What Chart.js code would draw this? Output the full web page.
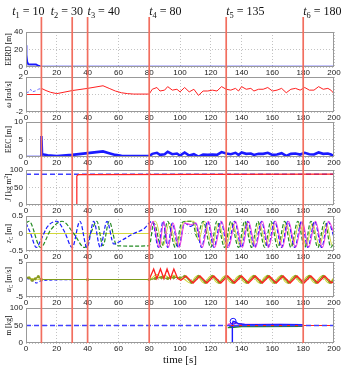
<!DOCTYPE html>
<html lang="en">
<head>
<meta charset="UTF-8">
<title>Simulation panels</title>
<script src="https://cdn.jsdelivr.net/npm/chart.js@4"></script>
<style>
  body { margin: 0; background: #fff; }
  #wrap { position: relative; width: 348px; height: 366px; overflow: hidden; }
  .box { position: absolute; left: 0; width: 348px; }
</style>
</head>
<body>
<div id="wrap"></div>
<script>
// ---- data ----
const xRange = [0, 200];
const xStep = 20;

// event times (vertical lines) and their labels
const eventTimes = [10, 30, 40, 80, 130, 180];
const eventIndex = ['1', '2', '3', '4', '5', '6'];
const eventValues = ['10', '30', '40', '80', '135', '180'];
const eventLabelAt = [-9, 16, 40, 80, 130, 180];

// y axes
const yMin = [0, -2, 0, 0, -0.5, -5, 0];
const yMax = [40, 2, 10, 100, 0.5, 5, 100];
const yStep = [20, 2, 5, 50, 0.5, 5, 50];
const yTitles = [
  [['EERD [m]']],
  [['ω', 'i'], [' [rad/s]']],
  [['EEC [m]']],
  [['J', 'i'], [' [kg m'], ['2', 'sup'], [']']],
  [['z', 'i'], ['C', 'sub'], [' [m]']],
  [['u', 'i'], ['C', 'sub'], [' [m/s]']],
  [['m [kg]']]
];

// EERD
const eerd = [[0, 25], [0.3, 14], [0.8, 6], [1.5, 3.2], [3, 3], [6.5, 3], [7.5, 2], [9, 1], [10, 0.5], [200, 0.5]];

// omega
const omegaRef = [[0, 0.2], [2, 0.3], [3, 0.6], [4, 0.3], [6, 0.4], [8, 0.6], [10, 0.7]];
const omega = [[0, 0], [10, 0], [10, 0.7], [13, 0.45], [16, 0.25], [20, 0.1], [30, 0.45], [40, 0.7], [50, 1.0],
  [54, 0.7], [58, 0.4], [62, 0.2], [66, 0.1], [70, 0.05], [80, 0.05],
  [82, 0.6], [85, 0.8], [87, 0.4], [90, 0.5], [92, 0.9], [95, 0.5], [98, 0.6], [100, 0.3], [103, 0.8], [106, 0.3],
  [109, 0.6], [112, -0.1], [115, 0.4], [118, 0.4], [121, 0.5], [124, 0.4], [127, 0.9], [130, 0.6], [133, 0.5],
  [136, 0.7], [138, 0.4], [140, 0.9], [143, 0.6], [146, 0.7], [148, 0.4], [151, 0.6], [154, 0.6], [157, 0.8],
  [160, 0.4], [163, 0.5], [166, 0.7], [169, 0.2], [172, 0.6], [175, 0.7], [178, 0.5], [181, 0.8], [184, 0.5],
  [187, 0.5], [190, 0.9], [193, 0.6], [196, 0.7], [198, 0.5], [200, 0.1]];

// EEC
const eec = [[0, 0], [10, 0], [10, 6], [10.4, 0.8], [14, 0.5], [20, 0.3], [30, 0.6], [40, 1.1], [50, 1.6], [54, 1.1],
  [58, 0.6], [62, 0.35], [70, 0.3], [80, 0.3], [82, 0.9], [85, 1.2], [87, 0.6], [90, 0.8], [92, 1.5], [95, 0.8],
  [98, 1.0], [100, 0.4], [103, 1.3], [106, 0.4], [109, 0.8], [112, 0.1], [115, 0.7], [118, 0.6], [121, 0.7],
  [124, 0.6], [127, 1.4], [130, 1.0], [133, 0.8], [136, 1.2], [138, 0.6], [140, 1.3], [143, 0.9], [146, 1.0],
  [148, 0.6], [151, 0.9], [154, 0.9], [157, 1.2], [160, 0.6], [163, 0.7], [166, 1.1], [169, 0.3], [172, 0.9],
  [175, 1.0], [178, 0.7], [181, 1.2], [184, 0.8], [187, 0.7], [190, 1.3], [193, 0.9], [196, 1.0], [198, 0.7], [200, 0.2]];

// J
const jRef = [[0, 88], [200, 88]];
const jEst = [[0, 0], [33, 0], [33, 83], [34, 87], [200, 88]];

// zC
const zBlue = [[0, 0.3], [3, 0], [6.7, -0.4], [10, -0.15], [14, 0.2], [20, 0.35], [25, 0.05], [30, -0.4], [35, 0.35],
  [39.6, -0.4], [44, 0.35], [48.2, -0.4], [52.6, 0.35], [57, -0.3], [62, -0.2], [70, 0], [77, 0.15], [80, 0.3],
  [82, 0.35], [86, -0.4], [89, 0.35], [92, -0.4], [95, 0.3], [99, -0.4], [103, 0.3], [107, 0.2], [110, 0.3],
  [114, -0.4], [118, 0.35], [122, -0.4], [126.5, 0.35], [131, -0.4], [135.5, 0.35], [140, -0.4], [144, 0.35],
  [148.5, -0.4], [153, 0.35], [157, -0.4], [161.5, 0.35], [166, -0.4], [170, 0.35], [174.5, -0.4], [179, 0.35],
  [183, -0.4], [187.5, 0.35], [192, -0.4], [196, 0.35], [200, -0.1]];
const zMagenta = [[80, 0], [82.5, 0.35], [86.5, -0.4], [89.5, 0.35], [92.5, -0.4], [95.5, 0.3], [99.5, -0.4],
  [103, 0.3], [107, 0.25], [110.5, 0.3], [114.5, -0.4], [118.5, 0.35], [122.5, -0.4], [127, 0.35], [131.5, -0.4],
  [136, 0.35], [140.5, -0.4], [144.5, 0.35], [149, -0.4], [153.5, 0.35], [157.5, -0.4], [162, 0.35], [166.5, -0.4],
  [170.5, 0.35], [175, -0.4], [179.5, 0.35], [183.5, -0.4], [188, 0.35], [192.5, -0.4], [196.5, 0.35], [200, 0]];
const zGreen = [[0, 0.3], [2, 0.35], [9.5, -0.4], [16, 0.1], [23.5, 0.35], [31, 0], [38, -0.4], [42, 0], [46, 0.35],
  [50, -0.35], [54, 0.35], [59, -0.35], [70, -0.36], [80, -0.35], [83, 0.3], [88, -0.4], [92, 0.35], [97, -0.4],
  [101, 0.3], [104, 0.35], [108, 0.35], [111, -0.1], [115, 0.35], [120, -0.4], [124, 0.35], [129, -0.4], [133, 0.35],
  [138, -0.4], [142, 0.35], [146.5, -0.4], [150.5, 0.35], [155, -0.4], [159, 0.35], [163.5, -0.4], [168, 0.35],
  [172, -0.4], [176.5, 0.35], [181, -0.4], [185, 0.35], [189.5, -0.4], [194, 0.35], [198, -0.4], [200, -0.2]];
const zYellow = [[0, 0], [40, 0], [80, 0], [81, 0.2], [84, 0.35], [89, -0.35], [93, 0.3], [98, -0.35], [102, 0.3],
  [106, 0.35], [109, 0.35], [112, -0.2], [116, 0.35], [121, -0.35], [125, 0.3], [130, -0.35], [134, 0.3],
  [139, -0.35], [143, 0.3], [147.5, -0.35], [151.5, 0.3], [156, -0.35], [160, 0.3], [164.5, -0.35], [169, 0.3],
  [173, -0.35], [177.5, 0.3], [182, -0.35], [186, 0.3], [190.5, -0.35], [195, 0.3], [199, -0.35], [200, -0.3]];

// uC
const uBlue = [[0, 0.3], [3, 0], [5, -0.6], [7, -1.0], [9, -0.5], [11, -0.3], [14, -0.2], [20, -0.1], [40, 0], [80, 0]];
const uGreen = [[0, 0.6], [2, 0.5], [4, -0.2], [6, 0.2], [8, 0.8], [10, 0], [40, 0], [80, 0], [84, 0.3], [88, 0.6],
  [92, 0.3], [96, 0.6], [100, 0.5], [103, 0.9], [107.5, -0.8], [112, 0.9], [116.5, -0.8], [121, 0.9], [125.5, -0.8],
  [130, 0.9], [134.5, -0.8], [139, 0.9], [143.5, -0.8], [148, 0.9], [152.5, -0.8], [157, 0.9], [161.5, -0.8],
  [166, 0.9], [170.5, -0.8], [175, 0.9], [179.5, -0.8], [184, 0.9], [188.5, -0.8], [193, 0.9], [197.5, -0.8], [200, -0.2]];
const uRed = [[80, 0], [82.9, 3], [85, 0.3], [87.3, 3], [89.5, 0.3], [91.6, 3], [93.8, 0.3], [96, 3], [98.5, 0.3],
  [100.6, -0.2], [104, 1], [108.5, -1], [113, 1], [117.5, -1], [122, 1], [126.5, -1], [131, 1], [135.5, -1], [140, 1],
  [144.5, -1], [149, 1], [153.5, -1], [158, 1], [162.5, -1], [167, 1], [171.5, -1], [176, 1], [180.5, -1], [185, 1],
  [189.5, -1], [194, 1], [198.5, -1], [200, -0.5]];
const uYellow = [[0, 0.5], [3, 0.3], [10, 0], [80, 0], [82, 0.5], [85, 1.5], [88, 0.5], [90, 1.2], [93, 0.5], [96, 1.2],
  [99, 0.5], [102, 0.3], [106.5, -1], [111, 1], [115.5, -1], [120, 1], [124.5, -1], [129, 1], [133.5, -1], [138, 1],
  [142.5, -1], [147, 1], [151.5, -1], [156, 1], [160.5, -1], [165, 1], [169.5, -1], [174, 1], [178.5, -1], [183, 1],
  [187.5, -1], [192, 1], [196.5, -1], [200, 0.5]];

// m
const mRef = [[0, 50], [200, 50]];
const mRed = [[0, 0], [130, 0], [130, 50], [200, 50]];
const mBlue = [[130, 0], [134, 0], [134, 55], [134.5, 62], [136, 60], [138, 55], [142, 53], [150, 52], [165, 53], [180, 52]];
const mGreen = [[131, 44], [135, 45], [140, 47], [150, 47], [180, 48]];
const mMagenta = [[131, 53], [135, 57], [140, 54], [150, 53], [180, 52]];
const mDark = [[132, 48], [140, 50], [160, 50], [180, 50]];

// ---- styling ----
const BLUE = '#1a1aff', RED = '#ff2020', GREEN = '#238b23', YEL = '#d2d83a', MAG = '#f040e0';
const REFBLUE = '#4040ff';
const EVENT = 'rgb(242,110,95)';
const SERIF = '"Liberation Serif", "DejaVu Serif", serif';
const SANS = '"Liberation Sans", Arial, sans-serif';

function line(data, color, width, dash, extra) {
  return Object.assign({
    data: data.map(p => ({ x: p[0], y: p[1] })),
    borderColor: color, borderWidth: width, borderDash: dash || [],
    pointRadius: 0, fill: false, tension: 0
  }, extra || {});
}
const smooth = { tension: 0.4, cubicInterpolationMode: 'monotone' };

const panelSets = [
  [line(eerd, BLUE, 1.8, null, { fill: 'origin', backgroundColor: 'rgba(190,190,238,0.9)' })],
  [line(omega, RED, 1), line(omegaRef, '#7070ff', 1, [3, 2])],
  [line(eec, BLUE, 2.6)],
  [line(jEst, RED, 1.2), line(jRef, REFBLUE, 1.4, [5, 3])],
  [line(zMagenta, MAG, 1.1, null, smooth), line(zBlue, BLUE, 1.2, [4, 2], smooth),
   line(zGreen, GREEN, 1.2, [4, 2], smooth), line(zYellow, YEL, 1, null, smooth)],
  [line(uRed, RED, 1.3), line(uGreen, '#7f9a1a', 1.1, null, Object.assign({ pointRadius: 1.6, pointBackgroundColor: '#8a9a20', pointBorderWidth: 0 }, smooth)),
   line(uBlue, BLUE, 1.1, [3, 2], smooth), line(uYellow, YEL, 1.1, null, smooth)],
  [line(mRef, REFBLUE, 1.5, [5, 3]), line(mRed, RED, 1.2),
   line(mBlue, BLUE, 1.4, null, { pointRadius: [0, 0, 0, 3, 0, 0, 0, 0, 0, 0], pointBorderColor: BLUE, pointBackgroundColor: 'rgba(0,0,0,0)', pointBorderWidth: 1 }),
   line(mMagenta, MAG, 1.4), line(mDark, '#3030a0', 1.4), line(mGreen, GREEN, 1.4)]
];

// ---- layout ----
const panelTops = [32, 77, 122, 170, 216, 262, 308];
const PLOT_H = 35, RIGHT_PAD = 14, YAXIS_W = 26, XAXIS_H = 11;

// text with italics / sub / sup pieces
function rich(ctx, parts, x, y, size, align) {
  const fontOf = p => (p[1] === 'i' ? 'italic ' : '') + ((p[1] === 'sub' || p[1] === 'sup') ? size * 0.7 : size) + 'px ' + SERIF;
  let total = 0;
  parts.forEach(p => { ctx.font = fontOf(p); total += ctx.measureText(p[0]).width; });
  let cx = align === 'center' ? x - total / 2 : x;
  ctx.textAlign = 'left';
  ctx.textBaseline = 'alphabetic';
  parts.forEach(p => {
    ctx.font = fontOf(p);
    const dy = p[1] === 'sub' ? size * 0.28 : p[1] === 'sup' ? -size * 0.4 : 0;
    ctx.fillText(p[0], cx, y + dy);
    cx += ctx.measureText(p[0]).width;
  });
}

const wrap = document.getElementById('wrap');
const last = panelSets.length - 1;

panelSets.forEach((sets, i) => {
  const top = panelTops[i];
  const padTop = i === 0 ? top : top - (panelTops[i - 1] + PLOT_H);
  const divTop = top - padTop;
  const h = i === last ? 366 - divTop : padTop + PLOT_H + XAXIS_H;

  const box = document.createElement('div');
  box.className = 'box';
  box.style.top = divTop + 'px';
  box.style.height = h + 'px';
  const cv = document.createElement('canvas');
  box.appendChild(cv);
  wrap.appendChild(box);

  const deco = {
    id: 'deco',
    afterDraw(chart) {
      const { ctx, chartArea: a, scales: { x } } = chart;
      ctx.save();
      // axes box
      ctx.strokeStyle = '#999';
      ctx.lineWidth = 1;
      ctx.strokeRect(a.left + 0.5, a.top + 0.5, a.width - 1, a.height - 1);
      // event lines
      ctx.strokeStyle = EVENT;
      ctx.lineWidth = 1.7;
      const y0 = i === 0 ? 17 : 0;
      eventTimes.forEach(t => {
        const px = x.getPixelForValue(t);
        ctx.beginPath();
        ctx.moveTo(px, y0);
        ctx.lineTo(px, a.bottom);
        ctx.stroke();
      });
      ctx.fillStyle = '#111';
      if (i === 0) {
        eventTimes.forEach((t, k) => {
          rich(ctx, [['t', 'i'], [eventIndex[k], 'sub'], [' = ' + eventValues[k]]], x.getPixelForValue(eventLabelAt[k]), 15, 12, 'left');
        });
      }
      if (i === last) {
        rich(ctx, [['time [s]']], (a.left + a.right) / 2, a.bottom + 20, 11, 'center');
      }
      // y title
      ctx.translate(10.5, (a.top + a.bottom) / 2);
      ctx.rotate(-Math.PI / 2);
      rich(ctx, yTitles[i], 0, 0, 7.5, 'center');
      ctx.restore();
    }
  };

  new Chart(cv, {
    type: 'line',
    data: { datasets: sets },
    options: {
      responsive: true,
      maintainAspectRatio: false,
      animation: false,
      events: [],
      layout: { padding: { top: padTop, left: 0, right: RIGHT_PAD, bottom: h - padTop - PLOT_H - XAXIS_H } },
      plugins: { legend: { display: false }, tooltip: { enabled: false } },
      scales: {
        x: {
          type: 'linear', min: xRange[0], max: xRange[1],
          ticks: { stepSize: xStep, autoSkip: false, maxRotation: 0, padding: 1, color: '#222', font: { family: SANS, size: 8 } },
          grid: { color: '#b4b4b4', lineWidth: 0.8, drawTicks: false },
          border: { display: false, dash: [1, 2] },
          afterFit(s) { s.height = XAXIS_H; }
        },
        y: {
          min: yMin[i], max: yMax[i],
          ticks: { stepSize: yStep[i], autoSkip: false, padding: 3, color: '#222', font: { family: SANS, size: 8 } },
          grid: { color: '#b4b4b4', lineWidth: 0.8, drawTicks: false },
          border: { display: false, dash: [1, 2] },
          afterFit(s) { s.width = YAXIS_W; }
        }
      }
    },
    plugins: [deco]
  });
});
</script>
</body>
</html>
